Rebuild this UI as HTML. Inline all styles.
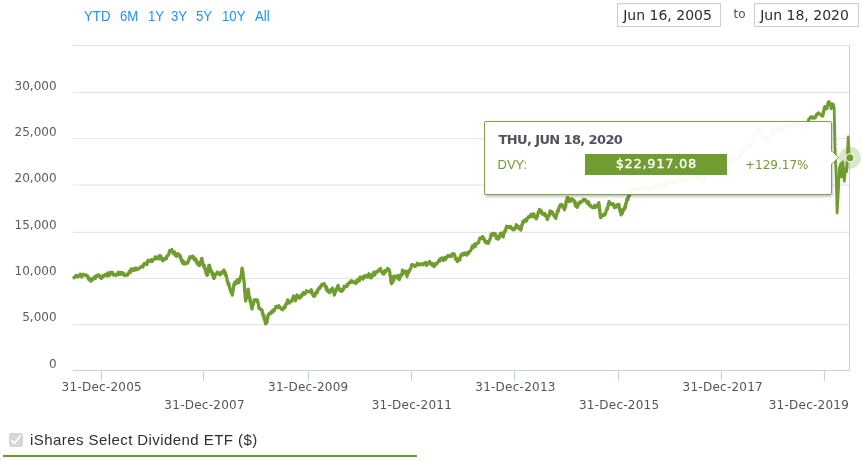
<!DOCTYPE html>
<html lang="en">
<head>
<meta charset="utf-8">
<title>iShares Select Dividend ETF - Growth of Hypothetical $10,000</title>
<style>
html,body{margin:0;padding:0;background:#fff;}
body{width:862px;height:461px;position:relative;overflow:hidden;font-family:"DejaVu Sans","Liberation Sans",sans-serif;}
#wrap{position:absolute;left:0;top:0;width:862px;height:461px;overflow:hidden;background:#fff;}
.abs{position:absolute;white-space:nowrap;}
.rng{position:absolute;top:8px;font:13px/15px "Liberation Sans",Arial,sans-serif;color:#1e90ff;white-space:nowrap;transform:scale(1.02,1.09);transform-origin:0 3px;}
.inp{position:absolute;top:3px;height:21.5px;width:102px;box-shadow:inset 0 1px 1px rgba(0,0,0,0.04);border:1px solid #cdcdcd;background:#fff;box-sizing:content-box;}
.inp span{position:absolute;left:5.2px;top:2.8px;font:14px/17px "DejaVu Sans","Liberation Sans",sans-serif;color:#2b2b3a;white-space:nowrap;}
.yl{position:absolute;left:0;width:56.6px;text-align:right;font:12px/14px "DejaVu Sans","Liberation Sans",sans-serif;color:#5c5c5c;white-space:nowrap;}
.xl{position:absolute;width:100px;margin-left:-50px;text-align:center;font:12px/14px "DejaVu Sans","Liberation Sans",sans-serif;color:#555;white-space:nowrap;letter-spacing:0.25px;}
#tip{position:absolute;left:484px;top:121px;width:346px;height:72px;border:1px solid #7ba33e;border-radius:2px;background:rgba(255,255,255,0.96);box-shadow:1px 1.5px 2.5px rgba(0,0,0,0.22);box-sizing:content-box;}
#tip .hd{position:absolute;left:13.5px;top:10px;font:bold 13px/16px "DejaVu Sans","Liberation Sans",sans-serif;color:#55505c;white-space:nowrap;letter-spacing:-0.62px;}
#tip .nm{position:absolute;left:12.5px;top:35px;font:13px/16px "Liberation Sans",Arial,sans-serif;color:#719c31;white-space:nowrap;}
#tip .val{position:absolute;left:100px;top:32px;width:142px;height:20.5px;background:#719c31;color:#fff;text-align:center;font:13px/20px "DejaVu Sans","Liberation Sans",sans-serif;letter-spacing:0.7px;white-space:nowrap;-webkit-text-stroke:0.3px #fff;text-indent:0.7px;}
#tip .pct{position:absolute;left:260px;top:35px;font:12px/16px "DejaVu Sans","Liberation Sans",sans-serif;color:#719c31;white-space:nowrap;}
#leg{position:absolute;left:30px;top:430px;font:15px/20px "Liberation Sans",Arial,sans-serif;color:#2e2e2e;white-space:nowrap;letter-spacing:0.43px;}
#cb{position:absolute;left:9px;top:433px;width:14px;height:14px;border-radius:2.5px;background:#d6d6d6;}
#ul{position:absolute;left:3px;top:454.7px;width:414px;height:2.2px;background:#6d982e;}
</style>
</head>
<body>
<div id="wrap">

<svg class="abs" style="left:0;top:0" width="862" height="461" viewBox="0 0 862 461">
  <!-- grid -->
  <g stroke="#e2e2e2" stroke-width="1">
    <line x1="73" y1="92.5" x2="850" y2="92.5"/>
    <line x1="73" y1="138.7" x2="850" y2="138.7"/>
    <line x1="73" y1="185" x2="850" y2="185"/>
    <line x1="73" y1="232.3" x2="850" y2="232.3"/>
    <line x1="73" y1="278.4" x2="850" y2="278.4"/>
    <line x1="73" y1="324.6" x2="850" y2="324.6"/>
  </g>
  <!-- plot border top/right -->
  <g stroke="#cecece" stroke-width="1" shape-rendering="crispEdges" fill="none">
    <line x1="73" y1="45.5" x2="850" y2="45.5" stroke="#e0e0e0"/>
    <line x1="849.5" y1="45" x2="849.5" y2="371"/>
  </g>
  <!-- x axis -->
  <g stroke="#c6d2e6" stroke-width="1" shape-rendering="crispEdges">
    <line x1="73" y1="370.5" x2="850" y2="370.5"/>
    <line x1="101.5" y1="370" x2="101.5" y2="381"/>
    <line x1="203.5" y1="370" x2="203.5" y2="381"/>
    <line x1="308.5" y1="370" x2="308.5" y2="381"/>
    <line x1="411.5" y1="370" x2="411.5" y2="381"/>
    <line x1="514.5" y1="370" x2="514.5" y2="381"/>
    <line x1="618.5" y1="370" x2="618.5" y2="381"/>
    <line x1="721.5" y1="370" x2="721.5" y2="381"/>
    <line x1="824.5" y1="370" x2="824.5" y2="381"/>
  </g>
  <!-- series -->
  <path fill="none" stroke="#709c30" stroke-width="3.2" stroke-linejoin="round" stroke-linecap="round" d="M73.9 277.5 L74.4 277.8 L74.9 277.1 L75.5 276.5 L76.0 275.4 L76.5 275.4 L77.0 276.5 L77.5 276.3 L78.1 276.7 L78.6 276.0 L79.1 275.6 L79.7 275.7 L80.2 274.1 L80.8 275.7 L81.3 276.4 L81.9 276.9 L82.4 275.2 L83.0 274.4 L83.5 274.3 L84.0 274.5 L84.6 275.1 L85.1 275.1 L85.6 275.4 L86.1 275.0 L86.6 275.8 L87.2 276.5 L87.7 276.0 L88.2 278.1 L88.5 278.5 L88.8 279.6 L89.2 278.7 L89.5 278.3 L89.8 278.7 L90.2 279.4 L90.5 280.7 L90.8 281.2 L91.2 280.2 L91.7 279.1 L92.1 278.6 L92.5 279.9 L93.0 278.5 L93.4 278.6 L93.9 278.7 L94.4 276.9 L94.9 277.2 L95.3 278.4 L95.8 275.8 L96.3 275.9 L96.8 276.0 L97.3 275.2 L97.9 276.2 L98.4 276.2 L99.0 274.9 L99.6 276.4 L100.2 277.0 L100.7 277.6 L101.3 278.5 L101.9 277.8 L102.5 277.2 L103.0 275.5 L103.6 276.4 L104.2 275.7 L104.8 275.4 L105.3 274.5 L105.9 274.3 L106.5 274.5 L107.0 276.1 L107.5 273.7 L108.1 272.8 L108.6 273.8 L109.1 275.3 L109.7 275.4 L110.3 273.2 L110.8 272.1 L111.4 273.4 L112.0 273.1 L112.6 272.5 L113.1 274.2 L113.7 275.2 L114.3 274.8 L114.9 274.6 L115.4 274.5 L116.0 275.5 L116.5 275.1 L117.1 274.7 L117.7 274.4 L118.2 272.2 L118.8 273.6 L119.3 274.4 L119.9 274.5 L120.4 272.4 L121.0 272.5 L121.5 274.2 L122.1 272.6 L122.7 273.3 L123.2 274.8 L123.8 273.4 L124.3 275.5 L124.9 275.6 L125.4 275.1 L126.0 275.2 L126.5 275.2 L127.0 274.6 L127.6 275.0 L128.1 273.3 L128.6 272.5 L129.0 273.2 L129.3 272.4 L129.7 271.0 L130.1 271.7 L130.5 272.4 L130.8 270.8 L131.2 268.9 L131.8 269.1 L132.4 269.2 L132.9 269.0 L133.5 270.5 L134.1 268.9 L134.7 270.2 L135.2 268.5 L135.8 267.9 L136.4 268.9 L137.0 269.7 L137.5 269.7 L138.1 269.1 L138.6 268.5 L139.2 268.0 L139.7 268.0 L140.3 267.2 L140.7 267.0 L141.2 266.9 L141.6 266.2 L142.0 266.4 L142.5 266.1 L142.9 267.0 L143.3 265.9 L143.8 264.4 L144.2 263.5 L144.8 263.3 L145.3 264.0 L145.9 263.1 L146.4 263.2 L147.0 264.5 L147.5 261.0 L148.1 260.3 L148.6 261.0 L149.1 261.4 L149.6 261.3 L150.1 260.5 L150.5 260.9 L151.0 260.7 L151.5 259.6 L152.0 261.7 L152.6 261.0 L153.1 259.7 L153.7 259.4 L154.2 259.1 L154.8 259.1 L155.3 256.9 L155.9 257.4 L156.4 258.7 L156.9 257.2 L157.4 257.3 L157.9 258.1 L158.3 258.3 L158.8 258.9 L159.3 256.0 L159.8 255.5 L160.1 255.9 L160.4 257.3 L160.7 258.7 L161.0 256.1 L161.2 258.5 L161.5 257.6 L161.8 259.3 L162.1 258.4 L162.4 259.8 L162.8 260.8 L163.2 259.9 L163.6 259.6 L164.0 259.8 L164.4 259.1 L164.8 258.3 L165.2 259.3 L165.6 259.2 L166.0 257.6 L166.4 258.8 L166.8 256.2 L167.1 256.6 L167.5 255.5 L167.8 255.0 L168.2 255.2 L168.5 254.6 L168.9 254.4 L169.2 252.1 L169.6 250.7 L170.2 251.9 L170.7 251.0 L171.2 250.3 L171.8 249.4 L172.3 251.5 L172.9 252.0 L173.3 253.5 L173.7 252.2 L174.1 252.5 L174.5 251.8 L174.9 253.4 L175.3 255.3 L175.7 254.1 L176.1 256.0 L176.7 256.4 L177.2 255.6 L177.8 253.5 L178.4 255.6 L179.0 255.4 L179.5 254.8 L180.1 255.5 L180.3 256.4 L180.5 258.1 L180.7 256.9 L180.9 258.5 L181.2 260.0 L181.4 260.8 L181.6 260.2 L181.8 259.5 L182.0 261.0 L182.2 261.2 L182.4 261.6 L182.6 263.3 L182.9 262.8 L183.1 260.9 L183.3 261.9 L183.5 261.5 L183.7 263.8 L184.1 264.0 L184.5 263.0 L184.9 262.9 L185.3 263.4 L185.8 262.9 L186.2 263.6 L186.6 262.5 L187.0 262.7 L187.4 263.2 L187.8 262.9 L188.2 260.9 L188.7 261.1 L189.1 258.4 L189.6 257.6 L190.0 256.6 L190.4 258.3 L190.9 256.9 L191.3 257.1 L191.8 256.9 L192.2 256.8 L192.7 256.1 L193.1 256.3 L193.4 258.6 L193.7 258.3 L194.1 258.9 L194.4 259.9 L194.7 259.5 L195.0 258.4 L195.3 258.8 L195.6 260.7 L196.0 259.4 L196.3 259.9 L196.6 261.9 L196.9 263.0 L197.2 263.0 L197.4 264.1 L197.7 264.2 L198.0 263.2 L198.3 262.6 L198.6 263.3 L198.9 265.4 L199.1 265.3 L199.4 265.2 L199.7 265.4 L199.9 264.0 L200.1 264.3 L200.3 263.3 L200.5 263.9 L200.7 261.7 L200.8 262.5 L201.0 261.7 L201.2 260.0 L201.4 261.2 L201.6 260.6 L201.8 258.3 L202.0 259.0 L202.2 260.8 L202.5 261.2 L202.7 262.9 L202.9 264.0 L203.1 264.8 L203.4 265.1 L203.6 266.5 L203.8 266.8 L204.0 267.1 L204.2 265.0 L204.5 266.9 L204.7 268.6 L204.9 268.3 L205.1 268.2 L205.3 270.6 L205.5 268.7 L205.7 270.1 L205.9 272.9 L206.1 271.5 L206.3 272.5 L206.5 274.5 L206.7 273.9 L206.9 274.5 L207.1 275.4 L207.3 274.4 L207.5 274.9 L207.6 274.6 L207.7 274.8 L207.8 273.7 L207.8 272.8 L207.9 271.2 L208.0 270.7 L208.1 271.4 L208.2 270.7 L208.2 269.2 L208.3 268.1 L208.4 270.6 L208.5 270.3 L208.6 269.3 L208.7 265.5 L208.8 266.2 L208.8 266.2 L208.9 267.1 L209.0 266.1 L209.2 266.0 L209.4 266.7 L209.5 265.0 L209.7 267.2 L209.9 268.0 L210.1 267.7 L210.3 269.7 L210.5 271.5 L210.6 269.7 L210.8 269.7 L211.0 270.8 L211.3 271.5 L211.5 271.6 L211.8 271.3 L212.1 274.3 L212.3 275.2 L212.6 273.8 L212.9 273.1 L213.2 275.8 L213.4 276.9 L213.7 278.3 L214.0 278.5 L214.2 277.3 L214.5 277.9 L214.7 275.2 L215.0 274.8 L215.2 275.0 L215.5 275.4 L215.7 274.2 L216.0 273.9 L216.2 274.1 L216.5 273.9 L216.7 273.8 L217.0 273.1 L217.2 272.0 L217.6 273.1 L218.0 273.3 L218.4 272.7 L218.7 272.8 L219.1 273.6 L219.5 274.2 L219.9 274.9 L220.3 274.5 L220.7 274.2 L221.1 273.6 L221.5 272.0 L221.8 272.5 L222.2 273.1 L222.6 272.7 L223.0 271.7 L223.4 271.5 L223.7 270.8 L223.9 269.8 L224.2 271.3 L224.4 271.5 L224.7 273.4 L224.9 272.9 L225.2 272.2 L225.5 272.8 L225.7 275.8 L226.0 275.8 L226.2 275.2 L226.5 275.6 L226.7 277.3 L226.9 278.5 L227.0 279.0 L227.2 280.9 L227.4 281.4 L227.6 281.2 L227.8 281.9 L228.0 283.6 L228.1 284.1 L228.3 284.6 L228.5 283.2 L228.7 283.5 L228.9 284.8 L229.1 284.8 L229.2 286.3 L229.4 286.9 L229.6 287.8 L229.8 287.5 L230.0 289.7 L230.2 290.2 L230.4 289.6 L230.6 289.7 L230.8 291.9 L230.9 291.1 L231.1 292.0 L231.3 292.9 L231.5 292.7 L231.7 291.8 L231.9 292.7 L232.1 293.7 L232.3 295.2 L232.4 294.9 L232.5 293.7 L232.6 293.6 L232.7 293.0 L232.9 292.2 L233.0 291.3 L233.1 290.3 L233.2 290.4 L233.3 288.5 L233.4 287.7 L233.5 287.6 L233.6 285.9 L233.7 285.7 L233.9 284.2 L234.0 284.0 L234.1 284.9 L234.2 285.1 L234.3 284.4 L234.7 283.7 L235.0 282.0 L235.4 283.9 L235.7 283.5 L236.1 283.7 L236.4 281.7 L236.8 281.0 L237.4 279.6 L238.1 281.4 L238.7 282.7 L239.3 280.8 L239.5 280.9 L239.7 281.3 L239.9 279.1 L240.1 277.8 L240.3 277.4 L240.5 277.3 L240.7 276.3 L240.9 276.9 L241.0 277.1 L241.0 277.4 L241.1 277.3 L241.2 277.8 L241.3 277.5 L241.3 274.8 L241.4 273.8 L241.5 272.4 L241.5 271.4 L241.6 271.6 L241.7 271.5 L241.7 271.7 L241.8 269.6 L241.9 268.5 L242.0 268.8 L242.0 268.6 L242.1 268.1 L242.2 268.9 L242.3 269.0 L242.4 270.6 L242.4 271.5 L242.5 271.8 L242.6 271.6 L242.7 272.3 L242.8 271.0 L242.9 271.7 L243.0 273.3 L243.1 272.9 L243.1 274.6 L243.2 275.7 L243.3 275.2 L243.4 276.2 L243.5 276.9 L243.6 278.3 L243.7 279.5 L243.7 279.8 L243.8 279.4 L243.9 280.1 L244.0 280.9 L244.0 282.3 L244.1 282.9 L244.1 282.5 L244.2 281.9 L244.2 282.8 L244.3 283.2 L244.3 283.3 L244.4 284.6 L244.4 285.2 L244.5 286.3 L244.5 287.6 L244.6 287.7 L244.6 290.5 L244.7 289.9 L244.7 291.1 L244.8 291.1 L244.8 292.3 L244.9 289.9 L244.9 290.4 L245.0 291.8 L245.0 293.2 L245.1 295.8 L245.1 295.7 L245.2 296.7 L245.2 297.1 L245.3 297.7 L245.3 297.9 L245.4 297.6 L245.4 298.3 L245.5 297.5 L245.5 299.4 L245.6 298.6 L245.6 299.7 L245.7 301.1 L245.9 299.5 L246.0 298.6 L246.1 298.9 L246.3 297.8 L246.4 296.1 L246.5 296.0 L246.7 295.9 L246.8 295.8 L246.9 294.1 L247.0 295.3 L247.2 295.5 L247.3 293.9 L247.4 293.1 L247.6 291.7 L247.7 292.4 L247.8 290.6 L248.0 290.6 L248.1 289.3 L248.2 289.2 L248.3 290.8 L248.4 292.5 L248.5 292.3 L248.6 291.9 L248.7 293.3 L248.8 293.5 L248.9 294.2 L249.0 296.0 L249.1 296.8 L249.2 296.0 L249.3 298.2 L249.4 297.7 L249.5 298.4 L249.6 297.7 L249.7 298.1 L249.8 297.0 L249.9 300.0 L250.0 301.5 L250.1 300.1 L250.2 299.3 L250.3 299.0 L250.4 301.7 L250.5 301.9 L250.6 302.6 L250.7 303.0 L250.8 303.7 L250.9 303.4 L251.1 304.5 L251.2 304.0 L251.3 305.2 L251.4 306.5 L251.5 307.7 L251.6 307.9 L251.7 307.6 L251.8 308.7 L251.9 307.8 L252.1 309.0 L252.2 308.7 L252.3 307.4 L252.4 306.2 L252.6 305.0 L252.7 303.9 L252.8 303.6 L252.9 303.8 L253.1 303.9 L253.2 303.7 L253.3 304.7 L253.4 302.5 L253.6 301.7 L253.7 303.1 L254.2 300.1 L254.8 299.7 L255.3 300.0 L255.9 300.1 L256.4 300.3 L257.0 299.7 L257.1 300.6 L257.3 301.0 L257.4 302.2 L257.6 300.6 L257.7 300.9 L257.8 302.1 L258.0 302.1 L258.1 302.3 L258.3 304.2 L258.4 304.3 L258.6 305.9 L258.7 307.1 L258.8 307.5 L259.0 308.2 L259.1 308.3 L259.3 307.3 L259.4 308.4 L260.0 309.3 L260.6 309.0 L261.3 309.4 L261.9 310.5 L262.1 310.0 L262.2 311.4 L262.4 313.6 L262.5 312.8 L262.7 313.2 L262.9 313.4 L263.0 315.4 L263.2 315.6 L263.4 316.5 L263.5 315.7 L263.7 316.2 L263.8 316.7 L264.0 315.5 L264.1 318.2 L264.3 319.4 L264.4 317.8 L264.6 319.6 L264.8 320.0 L264.9 321.0 L265.1 321.7 L265.2 320.6 L265.4 321.5 L265.5 323.8 L265.7 323.4 L265.8 323.0 L266.0 321.6 L266.1 320.7 L266.3 321.5 L266.5 322.9 L266.6 322.2 L266.8 321.5 L267.0 322.4 L267.1 320.3 L267.3 318.8 L267.4 318.8 L267.6 318.6 L267.8 316.8 L267.9 315.3 L268.1 315.7 L268.4 315.7 L268.8 314.0 L269.1 313.9 L269.4 313.3 L269.8 313.8 L270.1 313.2 L270.5 312.8 L270.8 312.1 L271.1 312.8 L271.5 313.3 L271.8 311.7 L272.3 311.8 L272.7 310.2 L273.2 310.0 L273.6 310.3 L274.1 311.0 L274.5 309.4 L275.0 308.7 L275.4 308.3 L275.9 306.4 L276.5 307.0 L277.1 306.7 L277.7 307.6 L278.2 306.6 L278.8 305.6 L279.4 306.7 L280.0 307.6 L280.5 307.6 L281.0 309.1 L281.6 309.0 L282.1 308.7 L282.6 309.8 L283.1 308.6 L283.3 308.1 L283.6 308.2 L283.8 308.8 L284.0 308.0 L284.3 307.7 L284.5 306.5 L284.7 306.4 L284.9 307.5 L285.2 305.6 L285.4 307.1 L285.6 305.0 L285.9 304.2 L286.1 303.7 L286.6 304.1 L287.1 302.0 L287.6 299.9 L288.0 301.1 L288.5 301.8 L289.0 301.9 L289.5 303.0 L290.0 301.8 L290.5 301.0 L291.0 301.0 L291.5 300.4 L292.0 301.1 L292.5 298.5 L293.0 297.8 L293.6 296.0 L294.1 298.1 L294.7 298.1 L295.3 299.5 L295.6 300.8 L295.9 299.3 L296.2 298.0 L296.4 296.8 L296.7 295.6 L297.0 294.9 L297.3 295.5 L297.7 295.9 L298.2 296.3 L298.6 296.4 L299.0 297.7 L299.5 298.2 L299.9 298.0 L300.3 297.9 L300.6 296.9 L301.0 295.2 L301.4 296.5 L301.8 296.0 L302.1 294.2 L302.5 294.9 L303.0 294.6 L303.5 292.5 L304.0 294.2 L304.5 293.9 L304.9 294.1 L305.4 293.4 L305.9 292.6 L306.4 290.7 L306.9 291.9 L307.5 291.8 L308.0 291.4 L308.6 291.7 L309.2 291.6 L309.8 292.1 L310.3 291.3 L310.9 291.2 L311.3 289.7 L311.6 290.7 L312.0 292.5 L312.4 294.3 L312.7 293.9 L313.1 294.2 L313.4 296.1 L313.8 295.6 L314.2 295.6 L314.5 296.3 L314.9 294.9 L315.2 295.0 L315.6 293.0 L315.9 292.6 L316.2 291.9 L316.6 291.4 L316.9 292.0 L317.3 292.6 L317.7 290.5 L318.1 289.3 L318.5 289.5 L318.9 287.9 L319.3 288.4 L319.6 288.5 L320.0 287.6 L320.4 287.7 L320.8 285.6 L321.2 286.5 L321.6 284.6 L322.0 284.2 L322.5 284.0 L322.9 283.9 L323.4 284.9 L323.8 284.5 L324.3 283.8 L324.7 284.1 L324.9 285.9 L325.2 285.7 L325.4 286.1 L325.6 287.4 L325.8 287.5 L326.1 286.2 L326.3 289.4 L326.5 290.1 L326.7 287.7 L327.0 288.5 L327.2 289.6 L327.6 290.9 L328.0 291.5 L328.4 291.1 L328.8 290.4 L329.1 291.3 L329.5 292.8 L329.9 291.9 L330.3 291.6 L330.6 291.7 L330.9 289.7 L331.2 289.9 L331.5 289.7 L331.8 290.2 L332.1 289.1 L332.4 288.1 L332.7 288.8 L332.9 289.8 L333.2 289.9 L333.5 290.9 L333.8 292.3 L334.1 293.8 L334.3 295.2 L334.6 293.9 L334.9 292.8 L335.1 290.1 L335.4 292.4 L335.7 291.0 L335.9 290.6 L336.2 290.7 L336.5 288.8 L336.8 289.2 L337.0 288.7 L337.3 286.5 L337.6 287.1 L337.8 288.1 L338.1 285.4 L338.5 287.2 L338.9 287.9 L339.3 288.6 L339.7 289.2 L340.0 290.6 L340.4 290.0 L340.8 291.0 L341.2 290.5 L341.6 291.4 L342.0 289.8 L342.4 289.4 L342.7 290.7 L343.1 290.0 L343.5 288.9 L343.9 287.1 L344.2 286.2 L344.6 286.5 L345.0 287.1 L345.4 286.9 L345.9 286.7 L346.3 285.9 L346.7 286.6 L347.2 285.2 L347.6 284.1 L348.1 284.8 L348.5 284.1 L348.9 283.3 L349.4 282.4 L349.8 282.1 L350.2 282.6 L350.7 282.4 L351.1 280.7 L351.7 281.7 L352.3 282.0 L352.9 281.1 L353.6 282.4 L354.2 282.1 L354.8 282.0 L355.4 283.0 L355.8 283.6 L356.2 281.8 L356.6 281.7 L357.0 280.2 L357.3 282.2 L357.7 280.4 L358.1 280.8 L358.5 279.1 L358.9 279.4 L359.5 280.7 L360.1 277.1 L360.6 277.1 L361.2 277.9 L361.8 277.7 L362.4 277.0 L362.9 279.2 L363.5 278.4 L364.1 276.3 L364.6 277.3 L365.2 275.4 L365.7 276.9 L366.2 276.0 L366.8 276.1 L367.3 277.1 L367.9 276.5 L368.4 274.6 L368.9 273.7 L369.4 276.2 L370.0 277.3 L370.5 276.5 L371.0 277.9 L371.4 277.7 L371.7 277.5 L372.1 274.4 L372.4 274.4 L372.8 275.3 L373.1 275.5 L373.4 275.5 L373.8 272.2 L374.1 272.6 L374.5 273.0 L375.0 274.9 L375.4 272.6 L375.9 271.9 L376.4 271.6 L376.9 272.2 L377.3 271.1 L377.8 271.8 L378.3 270.3 L378.8 270.3 L379.2 269.4 L379.7 269.4 L380.1 269.2 L380.5 268.5 L380.8 270.8 L381.2 271.5 L381.6 271.3 L382.0 272.1 L382.4 273.4 L382.7 272.5 L383.1 273.0 L383.5 274.1 L383.9 274.1 L384.3 273.0 L384.7 270.5 L385.1 272.2 L385.5 272.0 L385.9 271.4 L386.3 270.6 L386.7 270.5 L387.1 269.6 L387.5 268.4 L387.9 268.6 L388.2 269.1 L388.6 269.5 L388.9 269.4 L389.2 271.3 L389.6 270.6 L389.7 272.5 L389.8 272.1 L389.9 273.5 L389.9 275.5 L390.0 275.7 L390.1 275.2 L390.2 275.9 L390.3 276.6 L390.4 275.5 L390.5 276.1 L390.6 277.5 L390.6 277.9 L390.7 278.9 L390.8 280.3 L390.9 281.4 L391.0 282.3 L391.1 282.8 L391.2 282.5 L391.2 282.8 L391.3 283.0 L391.4 283.3 L391.5 283.8 L391.7 281.8 L391.9 281.8 L392.1 281.9 L392.3 280.7 L392.5 280.8 L392.7 281.1 L392.9 280.4 L393.1 281.9 L393.3 278.0 L393.5 277.9 L393.7 276.1 L393.9 277.5 L394.1 279.6 L394.7 276.1 L395.3 276.7 L395.8 277.3 L396.4 276.9 L397.0 277.4 L397.4 275.5 L397.8 277.6 L398.1 278.4 L398.5 278.7 L398.9 278.5 L399.3 279.7 L399.5 278.6 L399.7 278.4 L399.9 277.4 L400.1 275.1 L400.3 275.5 L400.5 275.8 L400.7 276.2 L400.9 274.7 L401.2 274.4 L401.4 274.7 L401.6 274.1 L401.8 274.6 L402.0 275.0 L402.2 272.6 L402.4 270.1 L402.6 271.1 L402.8 272.1 L403.2 272.7 L403.7 273.1 L404.1 272.1 L404.5 271.6 L405.0 273.0 L405.4 272.2 L405.8 271.1 L406.2 271.4 L406.7 275.1 L407.1 276.5 L407.4 274.3 L407.7 272.9 L408.0 272.8 L408.3 271.6 L408.6 272.7 L408.9 271.8 L409.2 270.1 L409.4 271.3 L409.7 269.9 L410.0 269.7 L410.3 269.1 L410.6 268.3 L410.9 268.3 L411.2 267.1 L411.5 265.1 L412.1 264.7 L412.7 264.6 L413.2 264.7 L413.8 265.5 L414.4 265.9 L415.0 266.5 L415.5 266.3 L416.1 265.3 L416.7 264.8 L417.2 263.2 L417.7 263.8 L418.3 264.6 L418.8 265.0 L419.3 264.4 L419.8 263.9 L420.3 264.6 L420.9 263.9 L421.4 264.1 L421.9 264.0 L422.5 263.8 L423.1 264.8 L423.7 263.7 L424.4 263.3 L425.0 262.7 L425.6 262.5 L426.2 264.6 L426.6 265.5 L427.1 264.1 L427.5 263.7 L427.9 263.8 L428.4 263.4 L428.8 263.3 L429.2 261.5 L429.6 261.4 L430.0 262.5 L430.4 264.2 L430.8 264.0 L431.1 263.2 L431.5 263.4 L431.9 263.4 L432.3 263.4 L432.7 265.8 L433.1 265.3 L433.5 265.0 L434.0 266.6 L434.4 266.4 L434.9 265.3 L435.3 263.6 L435.7 263.4 L436.2 264.3 L436.6 263.6 L437.1 263.7 L437.6 262.5 L438.0 262.0 L438.5 260.9 L439.0 260.8 L439.5 261.3 L439.9 258.9 L440.4 258.7 L440.9 258.6 L441.4 258.0 L442.0 257.9 L442.6 258.9 L443.1 260.5 L443.6 260.1 L444.2 259.6 L444.8 257.5 L445.3 259.6 L445.8 258.8 L446.4 258.1 L446.9 256.6 L447.5 256.6 L448.0 255.5 L448.5 255.9 L449.1 256.4 L449.6 256.1 L450.2 256.2 L450.7 255.2 L451.2 256.8 L451.8 255.6 L452.4 253.9 L452.9 254.4 L453.4 254.1 L454.0 253.7 L454.3 254.6 L454.6 255.9 L454.9 255.5 L455.1 256.5 L455.4 258.7 L455.7 259.4 L456.0 259.3 L456.3 259.7 L456.5 259.8 L456.8 260.2 L457.1 261.4 L457.4 261.5 L457.8 258.6 L458.1 259.1 L458.4 258.4 L458.8 259.2 L459.1 258.3 L459.5 258.3 L459.8 260.1 L460.2 257.8 L460.5 256.2 L460.9 254.9 L461.5 254.3 L462.1 254.0 L462.6 255.2 L463.2 254.8 L463.8 253.3 L464.4 253.1 L464.8 254.3 L465.2 253.4 L465.5 253.2 L465.9 253.5 L466.3 254.5 L466.7 255.2 L467.0 254.7 L467.4 253.4 L467.8 252.5 L468.3 253.5 L468.8 253.3 L469.3 251.7 L469.8 251.4 L470.3 250.9 L470.8 250.3 L471.3 249.3 L471.7 247.7 L472.0 247.3 L472.4 245.9 L472.7 247.6 L473.1 247.6 L473.5 245.8 L473.8 247.0 L474.2 247.0 L474.5 244.1 L474.9 245.9 L475.2 245.7 L475.6 246.1 L476.1 243.5 L476.6 243.6 L477.1 243.4 L477.6 242.9 L478.1 242.4 L478.6 242.8 L479.1 240.5 L479.5 239.2 L479.9 238.1 L480.3 238.2 L480.7 238.0 L481.1 238.6 L481.5 238.6 L481.9 238.2 L482.3 237.1 L482.7 236.6 L483.1 237.4 L483.4 238.4 L483.7 238.6 L484.0 238.6 L484.3 240.6 L484.6 239.8 L484.9 240.9 L485.2 242.2 L485.5 241.8 L486.0 242.7 L486.4 241.4 L486.9 243.0 L487.4 243.2 L487.8 241.8 L488.3 243.3 L488.5 241.9 L488.7 243.0 L488.9 241.5 L489.1 240.9 L489.3 240.8 L489.5 239.9 L489.8 239.8 L490.0 238.7 L490.2 239.0 L490.4 238.3 L490.6 237.9 L490.8 234.7 L491.0 236.4 L491.2 235.9 L491.6 233.8 L491.9 234.3 L492.3 234.7 L492.7 235.3 L493.1 233.3 L493.4 234.6 L493.8 233.4 L494.2 234.8 L494.5 234.1 L494.8 234.8 L495.1 234.3 L495.3 233.6 L495.6 235.6 L495.9 236.7 L496.2 238.1 L496.5 238.5 L496.8 237.5 L497.1 236.2 L497.3 236.7 L497.6 237.1 L497.9 237.5 L498.2 239.2 L498.4 239.1 L498.6 238.3 L498.9 238.0 L499.1 237.4 L499.3 237.1 L499.5 237.2 L499.7 237.3 L499.9 235.5 L500.1 233.5 L500.4 235.0 L500.6 234.3 L500.8 234.7 L501.1 233.0 L501.5 233.5 L501.9 234.3 L502.2 233.5 L502.5 234.2 L502.9 235.9 L503.1 236.5 L503.3 237.0 L503.5 234.8 L503.7 232.8 L503.9 233.3 L504.1 233.7 L504.3 233.0 L504.6 231.0 L504.8 231.6 L505.0 231.7 L505.2 231.3 L505.4 229.9 L505.6 229.6 L505.8 229.7 L506.0 228.2 L506.6 226.2 L507.1 227.0 L507.7 227.4 L508.3 227.1 L508.8 227.7 L509.4 226.4 L510.0 226.6 L510.6 226.5 L511.2 227.4 L511.7 228.9 L512.3 228.1 L512.9 229.8 L513.5 230.0 L514.0 229.3 L514.5 228.6 L515.0 228.9 L515.4 227.3 L515.9 226.3 L516.4 224.7 L516.9 225.1 L517.2 226.9 L517.5 227.3 L517.9 227.6 L518.2 227.4 L518.5 227.8 L518.8 226.8 L519.1 228.8 L519.4 228.7 L519.8 228.2 L520.1 228.5 L520.4 228.8 L520.6 229.7 L520.8 230.2 L521.0 227.9 L521.2 228.6 L521.4 228.7 L521.6 227.1 L521.8 225.1 L522.0 224.5 L522.2 224.0 L522.4 224.5 L522.6 223.8 L522.8 221.6 L523.0 222.3 L523.4 220.9 L523.8 222.3 L524.2 220.8 L524.6 220.4 L525.0 219.8 L525.3 219.6 L525.7 221.0 L526.1 221.2 L526.5 220.9 L526.9 220.3 L527.3 218.0 L527.8 217.7 L528.3 217.3 L528.7 216.5 L529.2 217.4 L529.7 216.5 L530.2 215.9 L530.7 215.1 L531.2 214.2 L531.6 215.4 L532.1 216.7 L532.6 216.1 L533.2 215.2 L533.7 213.8 L534.3 215.3 L534.9 217.3 L535.4 217.6 L536.0 218.5 L536.3 218.9 L536.6 218.6 L536.9 216.7 L537.2 216.9 L537.5 216.5 L537.8 213.9 L538.1 213.3 L538.3 211.8 L538.6 212.0 L538.9 212.6 L539.2 211.1 L539.5 209.4 L539.8 211.2 L540.1 211.1 L540.4 211.9 L540.9 210.3 L541.4 211.8 L541.9 213.7 L542.3 214.1 L542.8 213.2 L543.3 213.4 L543.8 213.2 L544.1 214.5 L544.5 215.4 L544.8 215.2 L545.2 213.9 L545.5 215.4 L545.9 215.3 L546.2 216.4 L546.6 216.9 L546.9 218.7 L547.3 219.4 L547.6 217.5 L547.8 217.0 L548.1 217.9 L548.4 215.9 L548.6 215.5 L548.9 215.8 L549.2 215.8 L549.5 214.9 L549.7 212.4 L550.0 210.8 L550.3 211.2 L550.5 211.3 L550.8 213.0 L551.1 211.6 L551.4 213.0 L551.7 213.6 L552.1 211.9 L552.4 212.0 L552.7 213.2 L553.0 213.4 L553.3 214.1 L553.6 215.3 L553.9 214.9 L554.2 216.2 L554.6 216.0 L554.9 216.3 L555.2 217.7 L555.5 217.6 L555.7 217.5 L555.8 218.5 L556.0 217.3 L556.2 216.2 L556.3 216.2 L556.5 215.0 L556.7 215.4 L556.9 213.1 L557.0 213.4 L557.2 212.3 L557.4 211.1 L557.5 212.7 L557.7 210.8 L557.9 212.0 L558.0 211.4 L558.2 211.5 L558.4 209.1 L558.6 209.5 L558.7 209.8 L558.9 208.2 L559.1 207.0 L559.2 208.3 L559.4 206.9 L559.9 205.6 L560.4 204.6 L561.0 204.9 L561.5 204.9 L562.0 204.6 L562.4 206.5 L562.7 205.9 L563.1 206.5 L563.4 208.0 L563.8 206.7 L564.1 208.2 L564.5 209.9 L564.8 208.1 L565.2 207.5 L565.3 206.5 L565.4 205.2 L565.5 206.1 L565.6 204.1 L565.7 205.0 L565.8 206.2 L565.9 203.7 L566.0 203.3 L566.0 201.3 L566.1 202.5 L566.2 201.4 L566.3 201.1 L566.4 200.9 L566.5 201.1 L566.6 200.0 L566.7 199.5 L566.8 198.5 L566.9 198.3 L567.3 197.7 L567.8 198.8 L568.2 197.7 L568.6 198.6 L569.0 201.6 L569.5 201.7 L569.9 200.7 L570.5 201.1 L571.0 200.1 L571.6 198.8 L572.2 198.8 L572.7 200.1 L573.3 200.4 L573.5 200.7 L573.8 200.3 L574.0 200.2 L574.2 202.7 L574.5 203.2 L574.7 202.6 L574.9 201.4 L575.2 201.9 L575.4 205.8 L575.6 204.7 L575.9 205.4 L576.1 206.2 L576.3 206.6 L576.6 206.9 L576.8 206.2 L577.1 205.4 L577.3 207.3 L577.6 205.8 L577.8 206.2 L578.1 203.8 L578.4 203.6 L578.6 203.8 L578.9 204.4 L579.1 202.4 L579.4 202.7 L580.0 202.9 L580.6 201.8 L581.2 202.3 L581.9 201.3 L582.5 200.7 L583.1 201.1 L583.7 199.3 L584.2 200.4 L584.8 200.2 L585.4 199.8 L585.9 200.6 L586.5 202.3 L587.0 202.2 L587.6 203.8 L588.1 202.4 L588.5 201.8 L589.0 204.4 L589.4 204.8 L589.8 205.8 L590.2 204.8 L590.6 206.0 L591.1 206.3 L591.5 207.0 L592.1 206.8 L592.8 207.9 L593.5 206.8 L594.1 206.0 L594.6 205.3 L595.1 207.6 L595.7 207.2 L596.2 206.9 L596.7 207.0 L596.9 206.8 L597.1 205.6 L597.3 205.7 L597.5 205.2 L597.8 204.7 L598.0 203.9 L598.2 204.1 L598.4 203.5 L598.6 203.5 L598.8 203.4 L598.9 204.3 L598.9 202.6 L599.0 203.5 L599.1 204.1 L599.1 206.1 L599.2 205.2 L599.3 205.8 L599.4 206.8 L599.4 207.5 L599.5 209.5 L599.6 209.4 L599.6 211.0 L599.7 209.8 L599.8 209.1 L599.8 211.8 L599.9 212.8 L600.0 213.7 L600.0 214.1 L600.1 214.9 L600.2 214.0 L600.3 215.8 L600.3 215.6 L600.4 217.2 L600.5 217.5 L600.5 215.9 L600.6 216.0 L601.0 217.5 L601.3 217.0 L601.7 216.2 L602.1 216.2 L602.4 215.3 L602.8 214.5 L603.1 214.5 L603.5 214.3 L603.9 215.3 L604.2 214.2 L604.6 215.1 L604.9 214.7 L605.2 214.2 L605.5 213.7 L605.8 212.4 L606.0 211.4 L606.3 210.4 L606.6 209.1 L606.9 208.7 L607.2 207.8 L607.4 209.2 L607.6 208.6 L607.9 207.1 L608.1 204.7 L608.3 204.9 L608.5 204.4 L608.7 203.2 L608.9 202.3 L609.1 201.3 L609.4 202.4 L609.6 202.1 L609.8 204.2 L610.3 203.5 L610.8 203.1 L611.3 204.6 L611.7 204.3 L612.2 204.3 L612.7 203.9 L613.2 203.7 L613.6 205.8 L614.1 206.6 L614.5 207.8 L614.9 206.9 L615.4 206.9 L615.8 206.3 L616.2 207.0 L616.7 205.0 L617.1 205.5 L617.5 206.1 L618.0 206.5 L618.4 204.4 L618.6 205.9 L618.7 205.2 L618.9 205.1 L619.1 204.7 L619.2 207.1 L619.4 209.1 L619.6 208.4 L619.7 208.1 L619.9 208.5 L620.1 211.7 L620.3 212.3 L620.4 211.4 L620.6 210.0 L620.8 210.5 L620.9 212.8 L621.1 214.9 L621.3 214.3 L621.4 213.9 L621.6 214.0 L621.8 212.0 L622.1 213.3 L622.3 211.9 L622.6 213.0 L622.8 210.7 L623.0 209.6 L623.3 210.3 L623.5 209.4 L623.8 210.2 L624.0 209.7 L624.3 208.0 L624.5 208.6 L624.7 208.8 L624.9 206.1 L625.1 207.9 L625.2 207.4 L625.4 207.1 L625.6 204.2 L625.8 203.4 L626.0 203.1 L626.2 204.0 L626.4 201.9 L626.5 201.0 L626.7 199.6 L626.9 199.9 L627.1 200.3 L627.3 198.4 L627.5 198.1 L627.7 198.7 L627.9 199.9 L628.1 199.4 L628.4 197.9 L628.6 196.0 L628.8 195.0 L629.0 194.4 L629.2 194.6 L629.4 194.3 L629.6 195.5 L629.9 194.7 L630.1 192.6 L630.4 193.8 L630.6 193.6 L630.9 192.4 L631.1 190.8 L631.4 188.5 L631.9 188.2 L632.5 189.8 L633.0 189.0 L633.6 187.9 L634.1 188.7 L634.6 189.1 L635.2 189.6 L635.7 189.9 L636.2 190.6 L636.8 188.8 L637.3 189.5 L637.9 187.9 L638.4 188.6 L639.0 188.5 L639.5 188.4 L640.1 189.1 L640.6 188.5 L641.2 189.2 L641.7 189.3 L642.3 188.7 L642.8 187.6 L643.4 186.8 L643.9 186.6 L644.5 186.7 L645.0 187.2 L645.6 190.0 L646.1 189.8 L646.7 189.8 L647.2 188.4 L647.8 187.8 L648.4 187.9 L648.9 188.5 L649.5 187.8 L650.0 189.9 L650.5 188.7 L651.0 189.5 L651.5 186.6 L652.0 187.1 L652.5 187.5 L653.0 187.5 L653.5 187.8 L654.0 187.6 L654.5 187.2 L655.0 185.0 L655.5 184.7 L656.0 183.7 L656.5 185.4 L657.1 186.1 L657.6 186.0 L658.2 185.5 L658.7 185.4 L659.3 187.7 L659.8 188.9 L660.4 187.9 L660.9 188.7 L661.5 186.4 L662.0 184.9 L662.4 185.0 L662.9 184.6 L663.3 184.5 L663.7 184.9 L664.1 187.5 L664.6 185.5 L665.0 184.9 L665.4 184.6 L665.9 184.0 L666.3 184.4 L666.7 185.3 L667.1 182.8 L667.6 182.5 L668.0 181.8 L668.5 182.4 L669.1 181.0 L669.6 180.2 L670.2 180.4 L670.7 182.1 L671.3 182.9 L671.8 183.2 L672.4 181.2 L672.9 182.0 L673.5 182.2 L674.0 181.8 L674.4 181.5 L674.8 182.7 L675.2 183.0 L675.6 182.5 L676.0 182.6 L676.4 181.3 L676.8 181.1 L677.2 180.8 L677.6 180.9 L678.0 180.2 L678.4 179.6 L678.8 179.1 L679.2 178.1 L679.6 180.1 L680.0 179.4 L680.5 179.4 L681.1 180.7 L681.6 180.8 L682.2 178.5 L682.7 179.5 L683.3 180.2 L683.8 181.6 L684.4 181.8 L684.9 181.6 L685.5 179.8 L686.0 179.2 L686.4 179.4 L686.8 179.6 L687.2 178.0 L687.6 177.6 L688.0 177.2 L688.4 177.2 L688.8 177.3 L689.2 176.6 L689.6 175.1 L690.0 176.5 L690.4 177.4 L690.8 176.1 L691.2 176.3 L691.6 175.6 L692.0 175.3 L692.5 175.4 L693.1 174.3 L693.6 175.0 L694.2 176.0 L694.7 174.7 L695.3 176.9 L695.8 177.6 L696.4 177.8 L696.9 177.9 L697.5 177.8 L698.0 176.8 L698.3 176.3 L698.7 176.1 L699.0 177.0 L699.3 177.6 L699.7 178.8 L700.0 177.2 L700.3 180.6 L700.7 182.0 L701.0 181.4 L701.3 182.0 L701.7 182.3 L702.0 182.5 L702.3 182.4 L702.7 182.6 L703.0 182.2 L703.2 182.2 L703.5 181.8 L703.7 181.6 L704.0 180.2 L704.2 180.0 L704.4 179.7 L704.7 179.8 L704.9 178.1 L705.1 178.3 L705.4 178.7 L705.6 178.3 L705.9 177.0 L706.1 175.9 L706.3 175.3 L706.6 175.6 L706.8 176.4 L707.0 174.9 L707.3 173.4 L707.5 173.3 L707.8 172.9 L708.0 171.3 L708.5 170.6 L708.9 170.7 L709.4 171.3 L709.8 169.8 L710.3 168.9 L710.8 169.8 L711.2 168.5 L711.7 168.9 L712.2 169.2 L712.6 168.8 L713.1 167.6 L713.5 167.7 L714.0 167.3 L714.5 168.1 L715.1 167.5 L715.6 169.1 L716.2 167.5 L716.7 168.0 L717.3 168.6 L717.8 169.9 L718.4 169.2 L718.9 170.0 L719.5 169.5 L720.0 170.5 L720.3 171.5 L720.7 169.8 L721.0 169.5 L721.3 167.8 L721.7 168.5 L722.0 168.9 L722.3 167.8 L722.7 165.8 L723.0 166.1 L723.3 166.7 L723.7 166.8 L724.0 166.3 L724.3 163.4 L724.7 162.7 L725.0 164.1 L725.3 162.1 L725.7 163.1 L726.0 164.2 L726.5 163.6 L726.9 163.5 L727.4 161.9 L727.8 160.1 L728.3 160.0 L728.8 159.7 L729.2 159.6 L729.7 160.0 L730.2 159.4 L730.6 159.2 L731.1 159.2 L731.5 158.6 L732.0 159.9 L732.5 159.7 L733.1 159.3 L733.6 158.8 L734.2 158.3 L734.7 159.9 L735.3 159.8 L735.8 158.6 L736.4 158.6 L736.9 159.0 L737.5 159.1 L738.0 160.6 L738.3 158.8 L738.6 159.1 L738.9 158.7 L739.1 157.1 L739.4 157.1 L739.7 156.8 L740.0 156.9 L740.3 155.9 L740.6 155.8 L740.9 153.7 L741.1 152.9 L741.4 154.0 L741.7 154.6 L742.0 153.8 L742.3 152.5 L742.6 153.2 L742.9 150.4 L743.1 149.8 L743.4 150.7 L743.7 151.0 L744.0 149.3 L744.5 147.5 L744.9 149.6 L745.4 149.3 L745.8 148.1 L746.3 148.1 L746.8 148.8 L747.2 145.8 L747.7 147.4 L748.2 147.9 L748.6 145.3 L749.1 146.5 L749.5 144.5 L750.0 146.1 L750.3 146.0 L750.6 147.4 L750.9 145.3 L751.2 144.5 L751.5 144.9 L751.8 143.2 L752.1 142.1 L752.4 141.5 L752.6 141.3 L752.9 140.0 L753.2 140.6 L753.5 140.7 L753.8 140.2 L754.1 141.2 L754.4 139.6 L754.7 140.1 L755.0 138.4 L755.2 138.4 L755.5 135.6 L755.7 135.9 L755.9 135.4 L756.2 134.6 L756.4 133.8 L756.6 133.4 L756.9 132.6 L757.1 130.9 L757.4 130.9 L757.6 130.6 L757.8 130.3 L758.1 129.4 L758.3 129.5 L758.5 130.2 L758.8 129.4 L759.0 128.4 L759.3 130.5 L759.7 131.4 L760.0 132.1 L760.3 132.9 L760.7 132.1 L761.0 132.1 L761.3 133.5 L761.7 132.9 L762.0 133.2 L762.3 134.0 L762.7 134.7 L763.0 134.6 L763.3 136.0 L763.7 135.9 L764.0 136.9 L764.4 137.9 L764.8 138.3 L765.2 138.7 L765.6 137.3 L766.0 136.6 L766.4 137.0 L766.8 138.5 L767.2 140.5 L767.6 139.1 L768.0 140.0 L768.3 138.7 L768.6 137.9 L768.9 137.6 L769.1 138.2 L769.4 137.8 L769.7 138.3 L770.0 136.3 L770.3 136.7 L770.6 136.8 L770.9 135.8 L771.1 135.4 L771.4 133.9 L771.7 132.4 L772.0 132.0 L772.4 131.4 L772.8 134.3 L773.2 132.5 L773.7 133.3 L774.1 132.2 L774.5 131.5 L774.9 131.3 L775.3 129.6 L775.8 130.1 L776.2 129.7 L776.6 127.4 L777.0 128.0 L777.6 128.8 L778.1 129.2 L778.7 130.6 L779.2 129.5 L779.8 130.0 L780.3 130.5 L780.9 129.3 L781.4 130.8 L782.0 129.2 L782.4 127.9 L782.8 128.8 L783.2 127.5 L783.6 127.6 L784.0 126.0 L784.4 126.6 L784.8 125.6 L785.2 126.2 L785.6 124.6 L786.0 125.4 L786.5 125.7 L787.0 126.3 L787.5 126.6 L788.0 127.0 L788.5 126.0 L789.0 125.2 L789.5 126.5 L790.0 126.4 L790.6 126.5 L791.1 127.2 L791.7 125.3 L792.2 125.3 L792.8 125.3 L793.3 124.8 L793.9 125.7 L794.4 125.7 L795.0 124.9 L795.6 124.6 L796.1 126.2 L796.7 125.7 L797.2 126.6 L797.8 127.1 L798.3 125.2 L798.9 124.9 L799.4 125.9 L800.0 126.8 L800.6 127.4 L801.1 127.7 L801.7 127.9 L802.3 126.7 L802.9 126.0 L803.4 126.5 L804.0 125.5 L804.6 126.4 L805.2 124.4 L805.8 125.3 L806.4 125.1 L807.0 124.1 L807.2 124.4 L807.4 124.1 L807.6 123.5 L807.8 122.5 L808.0 122.0 L808.3 122.3 L808.5 121.2 L808.7 119.8 L808.9 119.4 L809.1 118.8 L809.5 118.7 L809.9 118.3 L810.3 117.6 L810.7 117.1 L811.1 117.3 L811.7 116.8 L812.2 118.0 L812.8 117.6 L813.3 117.3 L813.9 117.9 L814.4 118.2 L815.0 117.7 L815.3 117.7 L815.6 116.3 L815.9 115.7 L816.2 116.0 L816.4 115.4 L816.7 114.3 L817.0 114.3 L817.3 114.2 L817.6 113.6 L818.2 112.9 L818.9 113.2 L819.5 113.7 L820.2 114.2 L820.8 115.0 L821.2 114.9 L821.6 114.9 L822.0 115.2 L822.4 116.1 L822.8 115.9 L822.9 115.9 L823.0 114.0 L823.2 114.1 L823.3 113.3 L823.4 113.1 L823.5 112.9 L823.6 111.7 L823.8 111.2 L823.9 110.9 L824.0 110.6 L824.1 109.5 L824.2 108.6 L824.3 107.6 L824.5 108.6 L824.6 107.7 L824.7 106.9 L825.2 106.6 L825.7 107.6 L826.2 107.7 L826.7 108.7 L826.9 108.3 L827.0 107.4 L827.2 107.0 L827.4 105.7 L827.5 105.1 L827.7 104.3 L827.9 103.4 L828.1 103.2 L828.2 102.7 L828.4 102.9 L828.8 101.7 L829.3 102.3 L829.7 102.7 L830.2 103.2 L830.6 104.1 L830.7 104.9 L830.7 105.5 L830.8 105.9 L830.9 106.7 L830.9 107.4 L831.0 107.1 L831.1 107.9 L831.1 108.1 L831.2 108.5 L831.4 108.4 L831.5 108.1 L831.7 107.7 L831.8 106.8 L832.0 106.5 L832.2 105.8 L832.3 105.4 L832.5 105.0 L832.6 104.7 L832.8 104.2"/>
  <path fill="none" stroke="#709c30" stroke-width="2.8" stroke-linejoin="round" stroke-linecap="round" d="M832.8 104.2 L833.0 104.3 L833.2 104.7 L833.5 105.1 L833.7 105.8 L833.9 106.7 L834.1 107.2 L834.1 107.2 L834.1 107.6 L834.1 108.1 L834.2 109.0 L834.2 109.6 L834.2 110.3 L834.2 111.1 L834.2 111.4 L834.2 111.8 L834.2 112.8 L834.3 113.3 L834.3 113.6 L834.3 113.7 L834.3 114.2 L834.3 114.8 L834.3 115.6 L834.3 116.2 L834.4 117.0 L834.4 117.5 L834.4 117.9 L834.4 118.4 L834.4 119.4 L834.4 119.5 L834.4 120.2 L834.5 120.8 L834.5 121.5 L834.5 121.9 L834.5 122.6 L834.5 123.3 L834.5 123.7 L834.5 124.1 L834.5 124.6 L834.6 125.0 L834.6 125.6 L834.6 126.2 L834.6 126.9 L834.6 127.7 L834.6 128.4 L834.6 128.7 L834.6 129.3 L834.6 129.8 L834.7 130.4 L834.7 130.9 L834.7 131.4 L834.7 131.8 L834.7 132.2 L834.7 133.0 L834.7 133.8 L834.7 134.3 L834.8 134.8 L834.8 135.3 L834.8 135.7 L834.8 135.9 L834.8 136.7 L834.8 137.4 L834.8 137.8 L834.8 138.2 L834.8 139.1 L834.9 139.3 L834.9 140.3 L834.9 140.9 L834.9 141.7 L834.9 141.9 L834.9 142.4 L834.9 142.8 L834.9 143.4 L834.9 143.9 L835.0 144.3 L835.0 145.2 L835.0 145.5 L835.0 146.0 L835.0 146.7 L835.0 147.2 L835.0 147.7 L835.1 148.3 L835.1 148.8 L835.1 149.2 L835.1 149.8 L835.2 150.4 L835.2 151.4 L835.2 151.6 L835.2 152.4 L835.2 152.7 L835.3 153.2 L835.3 153.7 L835.3 154.4 L835.3 155.1 L835.4 155.9 L835.4 156.2 L835.4 156.9 L835.4 157.5 L835.4 158.1 L835.5 158.3 L835.5 159.0 L835.5 159.5 L835.5 160.0 L835.6 160.5 L835.6 161.2 L835.6 161.9 L835.6 162.5 L835.6 162.8 L835.7 163.5 L835.7 164.2 L835.7 164.4 L835.7 165.2 L835.7 165.3 L835.8 166.0 L835.8 166.7 L835.8 167.4 L835.8 167.9 L835.9 168.2 L835.9 168.6 L835.9 169.0 L835.9 169.8 L835.9 170.3 L836.0 170.8 L836.0 171.5 L836.0 171.9 L836.0 172.4 L836.1 173.0 L836.1 173.9 L836.1 174.6 L836.1 175.0 L836.1 175.1 L836.2 175.8 L836.2 176.4 L836.2 177.1 L836.2 177.7 L836.3 178.1 L836.3 178.8 L836.3 179.5 L836.3 179.9 L836.3 180.3 L836.3 180.8 L836.4 181.5 L836.4 181.8 L836.4 182.4 L836.4 182.9 L836.4 183.2 L836.4 184.1 L836.4 184.7 L836.4 185.3 L836.5 186.0 L836.5 186.2 L836.5 186.8 L836.5 187.5 L836.5 188.2 L836.5 188.5 L836.5 189.2 L836.5 189.8 L836.6 190.6 L836.6 191.2 L836.6 191.7 L836.6 192.4 L836.6 192.7 L836.6 193.1 L836.6 193.5 L836.7 193.9 L836.7 194.6 L836.7 194.8 L836.7 195.5 L836.7 196.3 L836.7 197.0 L836.7 197.5 L836.7 198.3 L836.8 198.6 L836.8 199.1 L836.8 199.3 L836.8 199.8 L836.8 200.4 L836.8 201.4 L836.8 202.0 L836.9 202.3 L836.9 203.0 L836.9 203.6 L836.9 204.1 L836.9 204.6 L836.9 205.1 L836.9 205.6 L836.9 205.9 L837.0 206.6 L837.0 207.5 L837.0 208.3 L837.0 208.6 L837.0 209.0 L837.0 209.5 L837.0 210.3 L837.0 210.8 L837.1 211.2 L837.1 211.8 L837.1 212.3 L837.1 213.0 L837.1 212.3 L837.2 211.5 L837.2 211.1 L837.2 210.7 L837.3 209.9 L837.3 209.4 L837.3 209.1 L837.4 208.4 L837.4 207.7 L837.4 207.6 L837.4 207.1 L837.5 206.6 L837.5 205.7 L837.5 205.4 L837.6 204.4 L837.6 203.8 L837.6 203.4 L837.7 203.1 L837.7 202.3 L837.7 201.6 L837.8 201.1 L837.8 200.2 L837.8 200.0 L837.9 199.5 L837.9 198.9 L837.9 198.4 L838.0 198.0 L838.0 197.4 L838.0 196.9 L838.1 196.5 L838.1 195.7 L838.1 195.1 L838.1 194.4 L838.2 194.1 L838.2 193.4 L838.2 192.9 L838.3 192.3 L838.3 191.7 L838.3 191.5 L838.4 190.7 L838.4 190.4 L838.4 189.8 L838.4 189.3 L838.5 188.5 L838.5 188.1 L838.5 187.5 L838.5 186.7 L838.6 186.2 L838.6 185.6 L838.6 185.0 L838.6 184.7 L838.7 183.9 L838.7 183.0 L838.7 182.3 L838.7 181.9 L838.7 181.4 L838.8 181.0 L838.8 180.6 L838.8 180.4 L838.8 179.7 L838.9 179.1 L838.9 178.4 L838.9 177.9 L838.9 177.6 L839.0 177.1 L839.0 176.0 L839.0 175.7 L839.0 175.4 L839.0 174.8 L839.1 173.9 L839.1 173.3 L839.1 172.9 L839.1 172.4 L839.2 171.6 L839.2 171.0 L839.2 170.7 L839.2 169.9 L839.3 169.7 L839.3 169.0 L839.3 168.5 L839.5 167.7 L839.6 167.1 L839.8 166.8 L840.0 165.9 L840.1 165.9 L840.3 165.0 L840.4 164.3 L840.6 163.8 L840.6 164.6 L840.7 165.3 L840.7 165.7 L840.8 166.2 L840.8 166.8 L840.8 167.3 L840.9 167.5 L840.9 168.4 L841.0 169.1 L841.0 169.7 L841.0 170.1 L841.1 170.8 L841.1 171.3 L841.1 171.9 L841.2 172.7 L841.2 172.8 L841.3 173.5 L841.3 173.9 L841.3 174.6 L841.4 175.5 L841.4 175.8 L841.5 176.4 L841.5 176.9 L841.5 176.5 L841.6 175.8 L841.6 174.9 L841.7 174.6 L841.7 174.1 L841.8 173.5 L841.8 173.2 L841.9 172.4 L841.9 171.8 L842.0 171.4 L842.0 170.9 L842.1 170.2 L842.1 169.9 L842.2 169.6 L842.2 168.8 L842.3 168.5 L842.3 167.3 L842.4 167.1 L842.4 166.4 L842.5 165.9 L842.5 165.2 L842.6 164.6 L842.6 163.8 L842.7 163.3 L842.7 163.1 L842.8 162.7 L842.8 162.0 L842.8 162.4 L842.9 162.9 L842.9 163.3 L843.0 164.3 L843.0 164.9 L843.1 165.4 L843.1 165.8 L843.1 166.2 L843.2 167.0 L843.2 167.7 L843.3 168.0 L843.3 168.7 L843.4 169.0 L843.4 169.8 L843.4 170.1 L843.5 170.7 L843.5 171.4 L843.6 172.0 L843.6 172.7 L843.7 173.0 L843.7 173.9 L843.7 174.6 L843.8 174.9 L843.8 175.5 L843.9 175.8 L843.9 176.3 L844.0 176.7 L844.0 177.4 L844.0 178.0 L844.1 178.8 L844.1 179.5 L844.2 180.0 L844.2 180.4 L844.3 180.9 L844.3 181.3 L844.3 180.8 L844.4 179.9 L844.4 179.7 L844.5 178.8 L844.5 178.3 L844.6 177.9 L844.6 177.3 L844.7 177.1 L844.7 176.4 L844.8 176.1 L844.8 175.6 L844.9 174.7 L844.9 174.2 L845.0 173.8 L845.0 173.0 L845.1 172.4 L845.1 171.7 L845.2 171.2 L845.2 170.6 L845.3 170.1 L845.3 169.7 L845.4 169.3 L845.4 168.6 L845.6 169.1 L845.8 169.7 L846.0 170.1 L846.3 170.4 L846.5 171.2 L846.7 171.5 L846.7 171.2 L846.7 170.4 L846.8 170.2 L846.8 169.3 L846.8 168.9 L846.8 168.6 L846.9 167.7 L846.9 167.4 L846.9 166.6 L846.9 165.7 L847.0 165.4 L847.0 165.0 L847.0 164.4 L847.0 163.3 L847.1 163.0 L847.1 162.5 L847.1 161.9 L847.1 161.4 L847.2 160.6 L847.2 160.1 L847.2 160.0 L847.2 159.7 L847.3 158.9 L847.3 158.2 L847.3 157.7 L847.3 157.3 L847.4 156.8 L847.4 155.9 L847.4 155.4 L847.4 154.9 L847.5 154.6 L847.5 154.1 L847.5 153.5 L847.5 153.0 L847.5 152.2 L847.6 151.9 L847.6 151.1 L847.6 150.5 L847.6 150.1 L847.7 149.2 L847.7 148.6 L847.7 147.7 L847.7 147.4 L847.8 146.9 L847.8 146.3 L847.8 145.9 L847.8 145.0 L847.9 144.6 L847.9 144.1 L847.9 143.5 L847.9 143.2 L848.0 142.9 L848.0 142.1 L848.0 141.3 L848.0 140.7 L848.1 140.2 L848.1 139.8 L848.1 139.0 L848.1 138.7 L848.2 137.9 L848.2 137.5 L848.2 137.0 L848.2 137.6 L848.2 138.5 L848.3 138.8 L848.3 139.2 L848.3 139.9 L848.3 140.5 L848.4 140.7 L848.4 141.4 L848.4 141.8 L848.4 142.6 L848.5 143.4 L848.5 143.8 L848.5 144.3 L848.5 144.9 L848.6 144.9 L848.6 145.8 L848.6 146.5 L848.6 147.1 L848.7 147.6 L848.7 148.0 L848.7 148.6 L848.7 149.5 L848.8 149.9 L848.8 150.7 L848.8 150.7 L848.9 151.3 L849.0 152.1 L849.0 152.7 L849.1 153.0 L849.2 153.7 L849.3 154.6 L849.4 154.9 L849.5 155.4 L849.5 156.0 L849.6 156.6 L849.7 157.5"/>
  <!-- hover marker -->
  <circle cx="849.9" cy="157.8" r="11" fill="#709c30" fill-opacity="0.25"/>
  <circle cx="849.9" cy="157.8" r="4.1" fill="#709c30" stroke="#ffffff" stroke-width="1.1"/>
</svg>

<!-- range selector -->
<span class="rng" style="left:83.5px">YTD</span>
<span class="rng" style="left:119.5px">6M</span>
<span class="rng" style="left:147.6px">1Y</span>
<span class="rng" style="left:171px">3Y</span>
<span class="rng" style="left:196px">5Y</span>
<span class="rng" style="left:222px">10Y</span>
<span class="rng" style="left:255px">All</span>

<!-- date inputs -->
<div class="inp" style="left:617px"><span>Jun 16, 2005</span></div>
<span class="abs" style="left:733.6px;top:6.5px;font:12px/14px 'DejaVu Sans','Liberation Sans',sans-serif;color:#555;">to</span>
<div class="inp" style="left:754px;width:103px"><span>Jun 18, 2020</span></div>

<!-- y labels -->
<div class="yl" style="top:78.5px">30,000</div>
<div class="yl" style="top:124.8px">25,000</div>
<div class="yl" style="top:171.2px">20,000</div>
<div class="yl" style="top:217.5px">15,000</div>
<div class="yl" style="top:263.8px">10,000</div>
<div class="yl" style="top:310.2px">5,000</div>
<div class="yl" style="top:356.5px">0</div>

<!-- x labels -->
<div class="xl" style="left:101.8px;top:379.5px">31-Dec-2005</div>
<div class="xl" style="left:204.6px;top:397.5px">31-Dec-2007</div>
<div class="xl" style="left:308.3px;top:379.5px">31-Dec-2009</div>
<div class="xl" style="left:411.9px;top:397.5px">31-Dec-2011</div>
<div class="xl" style="left:515.5px;top:379.5px">31-Dec-2013</div>
<div class="xl" style="left:619.2px;top:397.5px">31-Dec-2015</div>
<div class="xl" style="left:722.8px;top:379.5px">31-Dec-2017</div>
<div class="xl" style="left:808.9px;top:397.5px">31-Dec-2019</div>

<!-- tooltip -->
<div id="tip">
  <div class="hd">THU, JUN 18, 2020</div>
  <div class="nm">DVY:</div>
  <div class="val">$22,917.08</div>
  <div class="pct">+129.17%</div>
</div>
<svg class="abs" style="left:828px;top:148px" width="14" height="22" viewBox="0 0 14 22">
  <path d="M3.5 2.8 L10.8 9.6 L3.5 16.3" fill="#ffffff" fill-opacity="0.96" stroke="#7ba33e" stroke-width="1"/>
  <rect x="2.9" y="3.8" width="1.6" height="11.6" fill="#ffffff"/>
</svg>

<!-- legend -->
<div id="cb"><svg style="display:block" width="14" height="14" viewBox="0 0 14 14"><path d="M2.8 7.6 L5.6 10.3 L11 3" fill="none" stroke="#ffffff" stroke-width="1.8" stroke-linecap="round" stroke-linejoin="round"/></svg></div>
<div id="leg">iShares Select Dividend ETF ($)</div>
<div id="ul"></div>

</div>
</body>
</html>
